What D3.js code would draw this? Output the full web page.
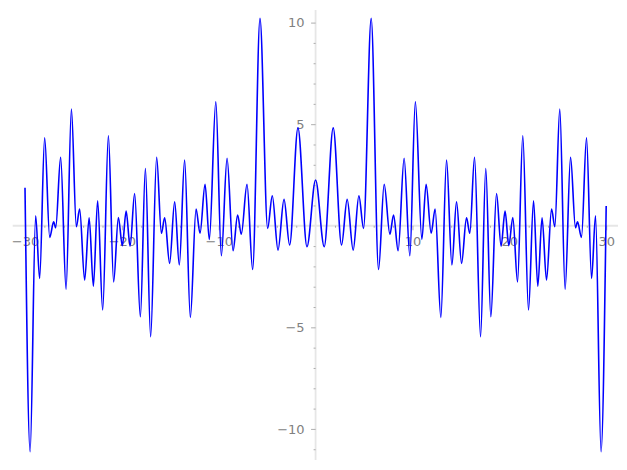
<!DOCTYPE html>
<html>
<head>
<meta charset="utf-8">
<script src="https://cdn.jsdelivr.net/npm/d3@7"></script>
<style>
  body { margin: 0; background: #fff; }
  svg { display: block; }
  text { font-family: "DejaVu Sans", sans-serif; }
</style>
</head>
<body>
<div id="chart"></div>
<script>
// Curve values (local extrema, left to right)
const curveX = [
  -30.0, -29.47, -28.90, -28.49, -27.97, -27.45, -27.04, -26.83, -26.32, -25.76,
  -25.21, -24.70, -24.36, -23.84, -23.38, -22.94, -22.50, -21.98, -21.39, -20.85,
  -20.36, -19.95, -19.56, -19.15, -18.68, -18.09, -17.57, -17.03, -16.41, -15.92,
  -15.58, -15.07, -14.55, -14.07, -13.52, -12.93, -12.34, -11.93, -11.41, -10.97,
  -10.30, -9.73, -9.14, -8.52, -8.05, -7.67, -7.08, -6.50, -5.74, -4.95,
  -4.47, -3.88, -3.26, -2.68, -1.82, -0.89, 0,
  0.89, 1.82, 2.68, 3.26, 3.88, 4.47, 4.95, 5.74, 6.50, 7.08,
  7.67, 8.05, 8.52, 9.14, 9.73, 10.30, 10.97, 11.41, 11.93, 12.34,
  12.93, 13.52, 14.07, 14.55, 15.07, 15.58, 15.92, 16.41, 17.03, 17.57,
  18.09, 18.68, 19.15, 19.56, 19.95, 20.36, 20.85, 21.39, 21.98, 22.50,
  22.94, 23.38, 23.84, 24.36, 24.70, 25.21, 25.76, 26.32, 26.83, 27.04,
  27.45, 27.97, 28.49, 28.90, 29.47, 30.0
]
const curveY = [
  1.87, -11.12, 0.49, -2.59, 4.33, -0.57, 0.20, -0.10, 3.37, -3.12,
  5.74, -0.05, 0.82, -2.67, 0.39, -2.97, 1.23, -4.15, 4.43, -2.76,
  0.41, -0.98, 0.72, -1.00, 1.59, -4.48, 2.82, -5.46, 3.37, -0.37,
  0.39, -1.85, 1.18, -1.93, 3.23, -4.51, 0.82, -0.37, 2.04, -0.67,
  6.10, -1.48, 3.32, -1.23, 0.53, -0.42, 2.04, -2.15, 10.21, -0.13,
  1.48, -1.20, 1.30, -0.95, 4.82, -1.03, 2.25,
  -1.03, 4.82, -0.95, 1.30, -1.20, 1.48, -0.13, 10.21, -2.15, 2.04,
  -0.42, 0.53, -1.23, 3.32, -1.48, 6.10, -0.67, 2.04, -0.37, 0.82,
  -4.51, 3.23, -1.93, 1.18, -1.85, 0.39, -0.37, 3.37, -5.46, 2.82,
  -4.48, 1.59, -1.00, 0.72, -0.98, 0.41, -2.76, 4.43, -4.15, 1.23,
  -2.97, 0.39, -2.67, 0.82, -0.05, 5.74, -3.12, 3.37, -0.10, 0.20,
  -0.57, 4.33, -2.59, 0.49, -11.12, 0.97
]

// Tick labels
const xMajor = [-30, -20, -10, 10, 20, 30]
const xMinor = [-28, -26, -24, -22, -18, -16, -14, -12, -8, -6, -4, -2,
  2, 4, 6, 8, 12, 14, 16, 18, 22, 24, 26, 28]
const yMajor = [-10, -5, 5, 10]
const yMinor = [-11, -9, -8, -7, -6, -4, -3, -2, -1, 1, 2, 3, 4, 6, 7, 8, 9]

const width = 627
const height = 470

const svg = d3.select("#chart")
  .append("svg")
  .attr("width", width)
  .attr("height", height)

// Scales (axis limits include the plot margin)
const x = d3.scaleLinear().domain([-31.27, 31.22]).range([12.7, 618])
const y = d3.scaleLinear().domain([10.62, -11.53]).range([10, 460])

const axisColor = "#e6e6e6"
const tickColor = "#999"
const labelColor = "#808080"

// Axis lines through the origin
svg.append("line")
  .attr("x1", x.range()[0]).attr("x2", x.range()[1])
  .attr("y1", y(0)).attr("y2", y(0))
  .style("stroke", axisColor).style("stroke-width", 1.8)
svg.append("line")
  .attr("x1", x(0)).attr("x2", x(0))
  .attr("y1", y.range()[0]).attr("y2", y.range()[1])
  .style("stroke", axisColor).style("stroke-width", 1.8)

const fmt = d3.format("d")

// x axis: major + minor ticks
const gx = svg.append("g").attr("transform", `translate(0,${y(0)})`)
gx.call(d3.axisBottom(x).tickValues(xMajor).tickSize(4.5).tickPadding(6.5).tickFormat(fmt))
gx.append("g").call(d3.axisBottom(x).tickValues(xMinor).tickSize(2).tickFormat(""))

// y axis
const gy = svg.append("g").attr("transform", `translate(${x(0)},0)`)
gy.call(d3.axisLeft(y).tickValues(yMajor).tickSize(4.5).tickPadding(6.5).tickFormat(fmt))
gy.append("g").call(d3.axisLeft(y).tickValues(yMinor).tickSize(2).tickFormat(""))

svg.selectAll(".domain").remove()
svg.selectAll(".tick line").style("stroke", tickColor).style("stroke-width", 0.8)
svg.selectAll(".tick text")
  .style("fill", labelColor)
  .style("font-size", "13px")
  .style("font-family", "DejaVu Sans, sans-serif")

// The curve
const points = curveX.map((d, i) => [d, curveY[i]])
const line = d3.line()
  .x((d) => x(d[0]))
  .y((d) => y(d[1]))
  .curve(d3.curveMonotoneX)

svg.append("path")
  .datum(points)
  .attr("d", line)
  .style("fill", "none")
  .style("stroke", "#0000ff")
  .style("stroke-width", 1.6)
</script>
</body>
</html>
